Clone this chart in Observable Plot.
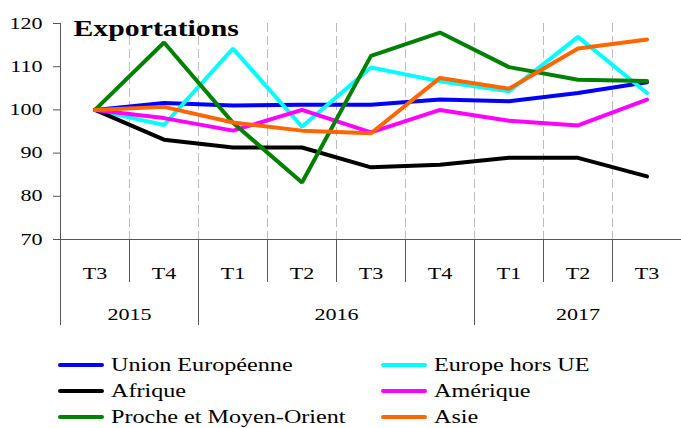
<!DOCTYPE html>
<html><head><meta charset="utf-8">
<script src="https://cdn.jsdelivr.net/npm/d3@7"></script>
<script src="https://cdn.jsdelivr.net/npm/@observablehq/plot@0.6"></script>
<style>
body{margin:0;background:#fff;width:681px;height:428px;overflow:hidden;font-family:"Liberation Serif","Times New Roman",serif;}
#legend{display:grid;grid-template-columns:323px 300px;grid-auto-rows:26px;padding-left:58px;padding-top:22px;}
.item{display:flex;align-items:center;}
.sw{width:46px;height:4px;margin-right:7px;flex:none;border-radius:2px;}
.lab{font-size:19px;color:#000;transform:scaleX(1.27);transform-origin:left center;white-space:nowrap;}
</style></head><body>
<div id="chart"></div><div id="legend"></div>
<script>
const titleText = "Exportations";
const years = ["2015","2015","2016","2016","2016","2016","2017","2017","2017"];
const quarters = ["T3","T4","T1","T2","T3","T4","T1","T2","T3"];
const seriesNames = ["Union Européenne","Europe hors UE","Afrique","Amérique","Proche et Moyen-Orient","Asie"];
const seriesColors = ["#0000ff","#00ffff","#000000","#ff00ff","#008000","#ff6600"];
const unionEuropeenne = [100, 101.6, 101.0, 101.2, 101.2, 102.4, 102.0, 103.9, 106.4];
const europeHorsUE = [100, 96.5, 114.2, 96.1, 109.8, 106.6, 104.3, 116.9, 103.9];
const afrique = [100, 93.1, 91.3, 91.3, 86.7, 87.3, 88.9, 88.9, 84.6];
const amerique = [100, 98.1, 95.2, 100.0, 94.8, 100.0, 97.5, 96.4, 102.4];
const procheMoyenOrient = [100, 115.6, 97.0, 83.2, 112.5, 117.9, 109.9, 107.0, 106.7];
const asie = [100, 100.7, 97.1, 95.2, 94.6, 107.4, 104.9, 114.2, 116.3];
const yTicks = [70, 80, 90, 100, 110, 120];

const seriesValues = [unionEuropeenne, europeHorsUE, afrique, amerique, procheMoyenOrient, asie];
const data = seriesValues.flatMap((vals, s) => vals.map((v, i) => ({i, value: v, series: seriesNames[s]})));
const idx = quarters.map((_, i) => i);
const interior = idx.slice(1).map(i => i - 0.5);
const yearList = [...new Set(years)];
const yearFirst = yearList.map(y => years.indexOf(y));
const yearLast = yearList.map(y => years.lastIndexOf(y));
const yearBounds = yearFirst.map(f => f - 0.5);
const yearCenters = yearFirst.map((f, k) => (f + yearLast[k]) / 2);
const yearByCenter = new Map(yearCenters.map((c, k) => [c, yearList[k]]));
const xDomain = [-0.5, quarters.length - 0.5];
const yDomain = [yTicks[0], yTicks[yTicks.length - 1]];

const chart = Plot.plot({
  width: 681, height: 330,
  marginLeft: 60, marginRight: 0, marginTop: 23, marginBottom: 91,
  style: {fontFamily: "'Liberation Serif','Times New Roman',serif", fontSize: "16px", color: "#000", background: "#fff"},
  x: {type: "linear", domain: xDomain},
  y: {domain: yDomain},
  color: {domain: seriesNames, range: seriesColors},
  marks: [
    Plot.ruleX(interior, {stroke: "#bdbdbd", strokeDasharray: "9,4"}),
    Plot.line(data, {x: "i", y: "value", z: "series", stroke: "series", strokeWidth: 4, strokeLinejoin: "miter", strokeLinecap: "round"}),
    Plot.ruleY([yDomain[0]], {stroke: "#555"}),
    Plot.ruleX([xDomain[0]], {stroke: "#555"}),
    Plot.axisY({ticks: yTicks, tickSize: 7, tickPadding: 11, stroke: "#555", fontSize: 16, label: null}),
    Plot.axisX({ticks: idx, tickSize: 0, tickPadding: 28, tickFormat: i => quarters[i], fontSize: 16, label: null}),
    Plot.axisX({ticks: interior, tickSize: 43, tickFormat: () => "", stroke: "#555", label: null}),
    Plot.axisX({ticks: yearBounds, tickSize: 86, tickFormat: () => "", stroke: "#555", label: null}),
    Plot.axisX({ticks: yearCenters, tickSize: 0, tickPadding: 69.6, tickFormat: d => yearByCenter.get(d), fontSize: 16, label: null}),
    Plot.text([titleText], {frameAnchor: "top-left", dx: 13, dy: 12, textAnchor: "start", lineAnchor: "bottom", fontSize: 24, fontWeight: "bold", fill: "#000"})
  ]
});
document.getElementById("chart").append(chart);
chart.querySelectorAll("text").forEach(t => {
  if (!t.textContent.trim()) return;
  const k = t.textContent === titleText ? 1.24 : 1.38;
  const len = t.getComputedTextLength();
  t.setAttribute("textLength", (len * k).toFixed(1));
  t.setAttribute("lengthAdjust", "spacingAndGlyphs");
});

const legend = document.getElementById("legend");
seriesNames.forEach((name, s) => {
  const item = document.createElement("div");
  item.className = "item";
  const sw = document.createElement("span");
  sw.className = "sw";
  sw.style.background = seriesColors[s];
  const lab = document.createElement("span");
  lab.className = "lab";
  lab.textContent = name;
  item.append(sw, lab);
  legend.append(item);
});
</script></body></html>
